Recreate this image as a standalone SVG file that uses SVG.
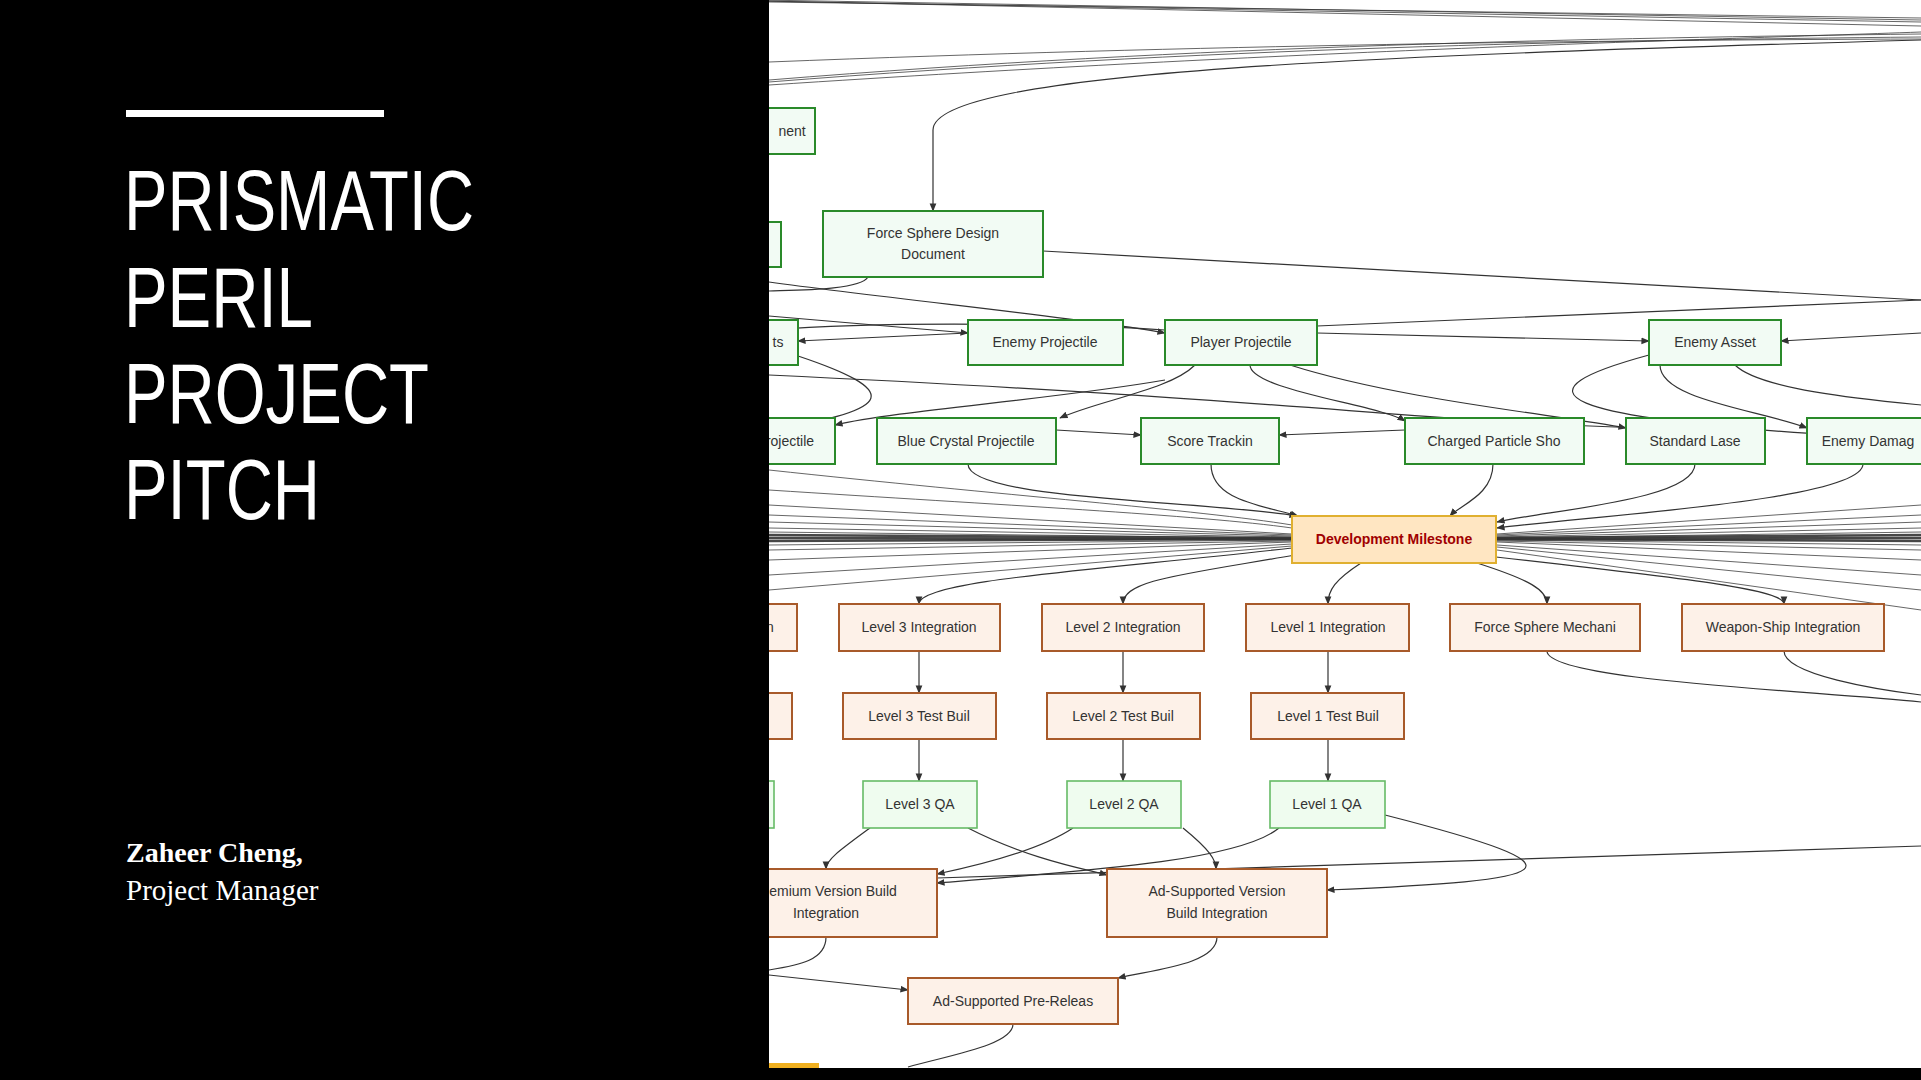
<svg xmlns="http://www.w3.org/2000/svg" width="1921" height="1080" viewBox="0 0 1921 1080">
<defs>
<marker id="ah" viewBox="0 0 10 10" refX="9" refY="5" markerWidth="7" markerHeight="7" orient="auto"><path d="M0,1 L10,5 L0,9 z" fill="#333"/></marker>
<style>
.g rect{fill:#f2fbf4;stroke:#2a8a2a;stroke-width:2}
.q rect{fill:#effcef;stroke:#66bb66;stroke-width:1.6}
.o rect{fill:#fdf1e8;stroke:#a85a2a;stroke-width:2}
.m rect{fill:#ffe6c2;stroke:#e0b030;stroke-width:2}
text{font-family:"Liberation Sans",Arial,sans-serif;font-size:14px;fill:#333;text-anchor:middle}
.m text{fill:#a00000;font-weight:bold}
#edges path{fill:none;stroke:#333;stroke-width:1.2}
#edges .a{marker-end:url(#ah)}
#bundle path{fill:none;stroke:#333;stroke-width:1;opacity:.75}
#bundle .k{stroke-width:2.5;opacity:.9}
.t{font-family:"Liberation Sans",Arial,sans-serif;fill:#fff;text-anchor:start;font-size:85px}
</style>
</defs>
<rect width="1921" height="1080" fill="#fff"/>
<g id="bundle">
<path d="M700,0 L1921,22"/><path d="M720,0 L1921,26"/><path d="M760,0 L1921,20"/><path d="M769,2 L1921,18"/>
<path d="M769,80 C1200,45 1600,38 1921,34"/><path d="M769,82 C1200,48 1600,40 1921,37"/><path d="M769,62 C1200,45 1600,40 1921,39"/><path d="M769,85 C1300,50 1700,40 1921,32"/>
<path d="M769,505 L1292,534"/><path d="M769,515 L1292,535"/><path d="M769,522 L1292,536"/><path d="M769,528 L1292,537"/><path d="M769,532 L1292,538"/><path class="k" d="M769,535 L1292,538"/><path class="k" d="M769,538 L1292,539"/><path class="k" d="M769,541 L1292,539"/><path d="M769,545 L1292,540"/><path d="M769,550 L1292,541"/><path d="M769,560 L1292,542"/><path d="M769,575 L1292,544"/><path d="M769,590 L1292,546"/>
<path d="M769,490 C1000,505 1200,515 1292,528"/><path d="M769,470 C1000,495 1200,510 1292,525"/>
<path d="M1921,505 L1497,534"/><path d="M1921,515 L1497,535"/><path d="M1921,522 L1497,536"/><path d="M1921,528 L1497,537"/><path d="M1921,532 L1497,538"/><path class="k" d="M1921,535 L1497,538"/><path class="k" d="M1921,538 L1497,539"/><path class="k" d="M1921,541 L1497,539"/><path d="M1921,545 L1497,540"/><path d="M1921,550 L1497,541"/><path d="M1921,560 L1497,542"/><path d="M1921,575 L1497,545"/><path d="M1921,590 L1497,547"/><path d="M1921,610 L1497,550"/>
</g>
<g id="edges">
<path class="a" d="M1921,40 C1400,55 933,70 933,130 L933,211"/>
<path d="M1043,251 L1921,300"/>
<path d="M868,277 C860,290 800,290 769,291"/>
<path class="a" d="M769,282 C900,300 1100,320 1165,333"/>
<path class="a" d="M769,316 L968,333"/>
<path class="a" d="M968,333 L798,341"/>
<path d="M769,330 C900,320 1100,325 1165,330"/>
<path class="a" d="M1317,333 L1649,341"/>
<path d="M1317,326 L1921,300"/>
<path class="a" d="M1921,333 L1781,341"/>
<path class="a" d="M1195,365 C1170,390 1100,400 1060,418"/>
<path class="a" d="M1165,380 C1050,400 900,410 835,425"/>
<path class="a" d="M1250,365 C1250,390 1380,405 1405,421"/>
<path class="a" d="M1290,365 C1400,400 1560,415 1626,428"/>
<path class="a" d="M1056,430 L1141,435"/>
<path class="a" d="M1405,430 L1279,435"/>
<path d="M1649,355 C1520,390 1520,420 1921,440"/>
<path class="a" d="M1660,365 C1660,400 1760,410 1807,428"/>
<path d="M1735,365 C1760,390 1870,400 1921,405"/>
<path d="M798,356 C900,390 900,410 769,430"/>
<path d="M769,375 C1300,400 1400,420 1640,428"/>
<path class="a" d="M968,464 C968,500 1200,500 1297,516"/>
<path class="a" d="M1211,464 C1211,500 1260,505 1298,516"/>
<path class="a" d="M1493,464 C1493,495 1460,505 1450,516"/>
<path class="a" d="M1695,464 C1695,500 1550,510 1497,522"/>
<path class="a" d="M1863,464 C1863,500 1600,515 1497,528"/>
<path class="a" d="M1292,548 C1100,570 919,580 919,604"/>
<path class="a" d="M1295,555 C1180,575 1123,580 1123,604"/>
<path class="a" d="M1361,563 C1335,580 1328,590 1328,604"/>
<path class="a" d="M1477,563 C1530,580 1547,590 1547,604"/>
<path class="a" d="M1496,557 C1700,580 1784,590 1784,604"/>
<path d="M1547,651 C1547,680 1800,690 1921,702"/>
<path d="M1784,651 C1784,675 1880,690 1921,695"/>
<path class="a" d="M919,651 L919,693"/><path class="a" d="M919,739 L919,781"/>
<path class="a" d="M1123,651 L1123,693"/><path class="a" d="M1123,739 L1123,781"/>
<path class="a" d="M1328,651 L1328,693"/><path class="a" d="M1328,739 L1328,781"/>
<path class="a" d="M870,828 C840,850 826,860 826,869"/>
<path class="a" d="M968,828 C1030,860 1090,870 1107,875"/>
<path class="a" d="M1073,828 C1040,850 980,865 937,874"/>
<path class="a" d="M1183,828 C1210,850 1216,860 1216,869"/>
<path class="a" d="M1279,828 C1240,860 1100,870 937,883"/>
<path class="a" d="M1385,815 C1600,870 1560,880 1327,890"/>
<path d="M1921,846 C1400,860 1100,870 937,878"/>
<path d="M826,937 C826,960 800,965 769,970"/>
<path class="a" d="M769,975 L908,990"/>
<path class="a" d="M1217,937 C1217,965 1150,970 1118,978"/>
<path d="M1013,1024 C1013,1045 950,1055 908,1067"/>
</g>
<g id="n1" class="g"><rect x="760" y="108" width="55" height="46"/><text x="792" y="136">nent</text></g>
<g id="n2" class="g"><rect x="760" y="222" width="21" height="45"/></g>
<g id="n3" class="g"><rect x="823" y="211" width="220" height="66"/><text x="933" y="238">Force Sphere Design</text><text x="933" y="259">Document</text></g>
<g id="n4" class="g"><rect x="760" y="320" width="38" height="45"/><text x="778" y="347">ts</text></g>
<g id="n5" class="g"><rect x="968" y="320" width="155" height="45"/><text x="1045" y="347">Enemy Projectile</text></g>
<g id="n6" class="g"><rect x="1165" y="320" width="152" height="45"/><text x="1241" y="347">Player Projectile</text></g>
<g id="n7" class="g"><rect x="1649" y="320" width="132" height="45"/><text x="1715" y="347">Enemy Asset</text></g>
<g id="n8" class="g"><rect x="760" y="418" width="75" height="46"/><text x="790" y="446">rojectile</text></g>
<g id="n9" class="g"><rect x="877" y="418" width="179" height="46"/><text x="966" y="446">Blue Crystal Projectile</text></g>
<g id="n10" class="g"><rect x="1141" y="418" width="138" height="46"/><text x="1210" y="446">Score Trackin</text></g>
<g id="n11" class="g"><rect x="1405" y="418" width="179" height="46"/><text x="1494" y="446">Charged Particle Sho</text></g>
<g id="n12" class="g"><rect x="1626" y="418" width="139" height="46"/><text x="1695" y="446">Standard Lase</text></g>
<g id="n13" class="g"><rect x="1807" y="418" width="130" height="46"/><text x="1868" y="446">Enemy Damag</text></g>
<g id="milestone" class="m"><rect x="1292" y="516" width="204" height="47"/><text x="1394" y="544">Development Milestone</text></g>
<g id="i0" class="o"><rect x="760" y="604" width="37" height="47"/><text x="770" y="632">n</text></g>
<g id="i3" class="o"><rect x="839" y="604" width="161" height="47"/><text x="919" y="632">Level 3 Integration</text></g>
<g id="i2" class="o"><rect x="1042" y="604" width="162" height="47"/><text x="1123" y="632">Level 2 Integration</text></g>
<g id="i1" class="o"><rect x="1246" y="604" width="163" height="47"/><text x="1328" y="632">Level 1 Integration</text></g>
<g id="fsm" class="o"><rect x="1450" y="604" width="190" height="47"/><text x="1545" y="632">Force Sphere Mechani</text></g>
<g id="wsi" class="o"><rect x="1682" y="604" width="202" height="47"/><text x="1783" y="632">Weapon-Ship Integration</text></g>
<g id="t0" class="o"><rect x="760" y="693" width="32" height="46"/></g>
<g id="t3" class="o"><rect x="843" y="693" width="153" height="46"/><text x="919" y="721">Level 3 Test Buil</text></g>
<g id="t2" class="o"><rect x="1047" y="693" width="153" height="46"/><text x="1123" y="721">Level 2 Test Buil</text></g>
<g id="t1" class="o"><rect x="1251" y="693" width="153" height="46"/><text x="1328" y="721">Level 1 Test Buil</text></g>
<g id="qa0" class="q"><rect x="760" y="781" width="14" height="47"/></g>
<g id="qa3" class="q"><rect x="863" y="781" width="114" height="47"/><text x="920" y="809">Level 3 QA</text></g>
<g id="qa2" class="q"><rect x="1067" y="781" width="114" height="47"/><text x="1124" y="809">Level 2 QA</text></g>
<g id="qa1" class="q"><rect x="1270" y="781" width="115" height="47"/><text x="1327" y="809">Level 1 QA</text></g>
<g id="prem" class="o"><rect x="730" y="869" width="207" height="68"/><text x="833" y="896">emium Version Build</text><text x="826" y="918">Integration</text></g>
<g id="ads" class="o"><rect x="1107" y="869" width="220" height="68"/><text x="1217" y="896">Ad-Supported Version</text><text x="1217" y="918">Build Integration</text></g>
<g id="pre" class="o"><rect x="908" y="978" width="210" height="46"/><text x="1013" y="1006">Ad-Supported Pre-Releas</text></g>
<rect x="769" y="1063" width="50" height="5" fill="#f0b020"/>
<rect x="0" y="0" width="769" height="1080" fill="#000"/>
<rect x="0" y="1068" width="1921" height="12" fill="#000"/>
<rect x="126" y="110" width="258" height="7" fill="#fff"/>
<text class="t" x="124" y="230" textLength="350" lengthAdjust="spacingAndGlyphs">PRISMATIC</text>
<text class="t" x="124" y="327" textLength="189" lengthAdjust="spacingAndGlyphs">PERIL</text>
<text class="t" x="124" y="423" textLength="305" lengthAdjust="spacingAndGlyphs">PROJECT</text>
<text class="t" x="124" y="519" textLength="196" lengthAdjust="spacingAndGlyphs">PITCH</text>
<text x="126" y="862" style="font-family:'Liberation Serif',serif;font-size:28px;font-weight:bold;fill:#fff;text-anchor:start">Zaheer Cheng,</text>
<text x="126" y="900" style="font-family:'Liberation Serif',serif;font-size:29px;fill:#fff;text-anchor:start">Project Manager</text>
</svg>
